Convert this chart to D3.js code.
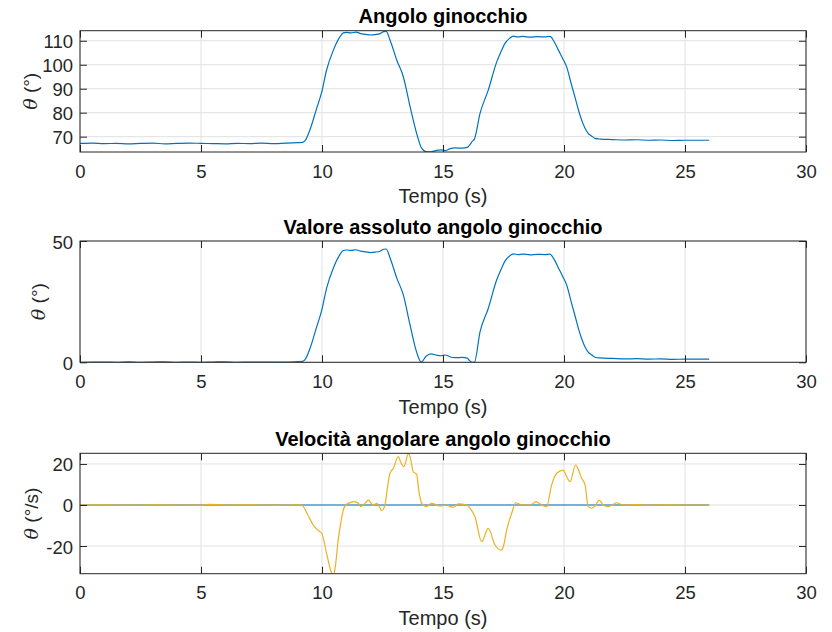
<!DOCTYPE html>
<html>
<head>
<meta charset="utf-8">
<script src="https://cdn.jsdelivr.net/npm/d3@7"></script>
<style>
  html, body { margin: 0; padding: 0; background: #fff; }
  svg { display: block; }
</style>
</head>
<body>
<svg id="chart" width="832" height="632"></svg>
<script>
// ---------------- DATA ----------------
const xTicks = [0, 5, 10, 15, 20, 25, 30];

// Panel 1: knee angle (deg)
const timeAngle = [0, 0.5, 1, 1.5, 2, 2.5, 3, 3.5, 4, 4.5, 5, 5.5, 6, 6.5, 7, 7.5, 8, 8.5, 9, 9.2,
  9.3, 9.5, 9.78, 9.99, 10.19, 10.47, 10.74, 10.88, 11.0, 11.2, 11.4, 11.6, 11.8, 12.0, 12.2, 12.4, 12.55, 12.65,
  12.81, 13.09, 13.36, 13.64, 13.91, 14.12, 14.32, 14.5, 14.7, 14.9, 15.1, 15.3, 15.5, 15.8, 16.0, 16.1, 16.2, 16.3,
  16.53, 16.87, 17.22, 17.4, 17.56, 17.75, 17.9, 18.1, 18.3, 18.6, 18.9, 19.2, 19.42, 19.6, 19.77, 19.95, 20.11,
  20.3, 20.45, 20.6, 20.73, 20.87, 21.0, 21.15, 21.28, 21.5, 22, 22.5, 23, 23.5, 24, 24.5, 25, 25.5, 26];
const angleValues = [67.2, 67.3, 67.1, 67.2, 67.0, 67.2, 67.3, 67.0, 67.2, 67.3, 67.2, 67.1, 67.0, 67.2, 67.1, 67.3, 67.1, 67.3, 67.5, 67.6,
  68.3, 72.8, 81.8, 88.7, 97.8, 106.1, 111.6, 113.3, 113.5, 113.3, 113.6, 113.0, 112.7, 112.4, 112.6, 113.0, 113.8, 113.9,
  110.3, 101.9, 95.0, 82.5, 71.4, 65.1, 63.7, 63.7, 64.2, 64.5, 64.2, 65.0, 65.3, 65.2, 65.5, 66.5, 67.9, 69.0,
  79.7, 89.4, 101.2, 105.5, 108.9, 111.0, 111.9, 111.6, 111.8, 111.5, 111.7, 111.6, 111.8, 109.5, 106.1, 102.5, 99.1,
  92.0, 86.6, 81.0, 76.9, 73.5, 71.4, 70.2, 69.3, 69.0, 68.8, 68.6, 68.7, 68.5, 68.6, 68.4, 68.5, 68.5, 68.5];
const yTicksAngle = [70, 80, 90, 100, 110];

// Panel 2: absolute knee angle (deg)
const timeAbs = [0, 0.5, 1, 1.5, 2, 2.5, 3, 3.5, 4, 4.5, 5, 5.5, 6, 6.5, 7, 7.5, 8, 8.5, 9, 9.2,
  9.3, 9.5, 9.78, 9.99, 10.19, 10.47, 10.74, 10.88, 11.0, 11.2, 11.4, 11.6, 11.8, 12.0, 12.2, 12.4, 12.55, 12.65,
  12.81, 13.09, 13.36, 13.64, 13.91, 14.1, 14.3, 14.5, 14.7, 14.9, 15.1, 15.3, 15.5, 15.8, 16.0, 16.1, 16.2, 16.3,
  16.53, 16.87, 17.22, 17.4, 17.56, 17.75, 17.9, 18.1, 18.3, 18.6, 18.9, 19.2, 19.42, 19.6, 19.77, 19.95, 20.11,
  20.3, 20.45, 20.6, 20.73, 20.87, 21.0, 21.15, 21.28, 21.5, 22, 22.5, 23, 23.5, 24, 24.5, 25, 25.5, 26];
const absValues = [0.0, 0.1, 0.1, 0.0, 0.2, 0.0, 0.1, 0.2, 0.0, 0.1, 0.0, 0.1, 0.2, 0.0, 0.1, 0.1, 0.1, 0.1, 0.3, 0.4,
  1.1, 5.6, 14.6, 21.5, 30.6, 38.9, 44.4, 46.1, 46.3, 46.1, 46.4, 45.8, 45.5, 45.2, 45.4, 45.8, 46.6, 46.7,
  43.1, 34.7, 27.8, 15.3, 4.2, 0.1, 2.5, 3.5, 3.0, 2.7, 3.0, 2.2, 1.9, 2.0, 1.7, 0.7, 0.0, 0.1,
  12.5, 22.2, 34.0, 38.3, 41.7, 43.8, 44.7, 44.4, 44.6, 44.3, 44.5, 44.4, 44.6, 42.3, 38.9, 35.3, 31.9,
  24.8, 19.4, 13.8, 9.7, 6.3, 4.2, 3.0, 2.1, 1.8, 1.6, 1.4, 1.5, 1.3, 1.4, 1.2, 1.3, 1.3, 1.3];
const yTicksAbs = [0, 50];

// Panel 3: angular velocity (deg/s)
const timeVel = [0, 1, 2, 3, 4, 5, 5.3, 6, 7, 8, 9, 9.16, 9.4, 9.64, 9.85, 9.99, 10.19, 10.4, 10.47, 10.54, 10.67, 10.8,
  10.88, 11.0, 11.09, 11.3, 11.5, 11.6, 11.75, 11.92, 12.05, 12.12, 12.26, 12.4, 12.47, 12.6, 12.7, 12.81, 12.95,
  13.15, 13.25, 13.39, 13.57, 13.65, 13.77, 13.91, 14.0, 14.12, 14.3, 14.53, 14.7, 14.9, 15.1, 15.43, 15.63, 15.98,
  16.12, 16.32, 16.6, 16.87, 17.15, 17.42, 17.5, 17.63, 17.84, 18.0, 18.15, 18.32, 18.6, 18.84, 19.08, 19.28, 19.49,
  19.7, 19.97, 20.1, 20.25, 20.48, 20.6, 20.73, 20.87, 21.0, 21.14, 21.28, 21.46, 21.62, 21.83, 22.0, 22.18, 22.4,
  23, 23.5, 24, 25, 26];
const velValues = [0, 0.1, -0.1, 0.1, 0, -0.1, 0.3, 0, 0.1, -0.1, 0.1, 0, -4.5, -9.8, -12.5, -13.8, -23.6, -33.3, -34.5, -31, -17, -7,
  -2.4, 0.2, 0.8, 1.6, 0.8, -0.8, 0.5, 2.4, 0.5, 0, 0.8, -1.5, -2.8, 0, 8, 15.5, 17.9,
  23.6, 21, 18.7, 25.2, 23, 16.2, 15, 7, 0.8, -0.8, 0.8, 0.2, -0.5, 0, -1.1, 0.5, 0,
  -1.6, -5.7, -17.9, -11.4, -19.5, -22, -20, -12.2, -4, 1.1, 0.5, 0, 0, 1.6, 0, -0.8, 9.8,
  15.5, 17, 14, 11.4, 19.5, 17, 13, 9.8, -0.8, -1.6, -0.5, 2.4, 0, -0.8, 0, 1.1, 0,
  0.2, -0.1, 0.1, 0, 0];
const timeZero = [0, 26];
const zeroValues = [0, 0];
const yTicksVel = [-20, 0, 20];

// ---------------- LAYOUT ----------------
const svg = d3.select('#chart');
const left = 80, right = 806;
const FONT = '"Liberation Sans", Arial, Helvetica, sans-serif';
const AXC = '#262626';
const BLUE = '#0072BD', YELLOW = '#EDB120';
const fmt = d => String(d);

const panels = [
  { top: 30.7, bottom: 152, domain: [63.6, 114.2], yTicks: yTicksAngle,
    title: 'Angolo ginocchio', ylab: '(°)', labX: 37,
    series: [{ t: timeAngle, v: angleValues, color: BLUE }] },
  { top: 241, bottom: 362.3, domain: [0, 50], yTicks: yTicksAbs,
    title: 'Valore assoluto angolo ginocchio', ylab: '(°)', labX: 45,
    series: [{ t: timeAbs, v: absValues, color: BLUE }] },
  { top: 453.3, bottom: 573.7, domain: [-33.5, 25.2], yTicks: yTicksVel,
    title: 'Velocità angolare angolo ginocchio', ylab: '(°/s)', labX: 38,
    series: [{ t: timeZero, v: zeroValues, color: BLUE }, { t: timeVel, v: velValues, color: YELLOW }] }
];

panels.forEach((p, i) => {
  const x = d3.scaleLinear().domain([0, 30]).range([left, right]);
  const y = d3.scaleLinear().domain(p.domain).range([p.bottom, p.top]);
  const g = svg.append('g');

  const clipId = 'clip' + i;
  svg.append('clipPath').attr('id', clipId)
    .append('rect').attr('x', left).attr('y', p.top)
    .attr('width', right - left).attr('height', p.bottom - p.top);

  // grid
  g.append('g').selectAll('line').data(xTicks).join('line')
    .attr('x1', d => x(d)).attr('x2', d => x(d))
    .attr('y1', p.top).attr('y2', p.bottom)
    .attr('stroke', '#e1e1e1').attr('stroke-width', 1);
  g.append('g').selectAll('line').data(p.yTicks).join('line')
    .attr('x1', left).attr('x2', right)
    .attr('y1', d => y(d)).attr('y2', d => y(d))
    .attr('stroke', '#e1e1e1').attr('stroke-width', 1);

  // series
  p.series.forEach(s => {
    const pts = s.t.map((t, k) => [t, s.v[k]]);
    const line = d3.line().x(d => x(d[0])).y(d => y(d[1])).curve(d3.curveMonotoneX);
    g.append('path').datum(pts)
      .attr('clip-path', 'url(#' + clipId + ')')
      .attr('d', line).attr('fill', 'none')
      .attr('stroke', s.color).attr('stroke-width', 1.2)
      .attr('stroke-linejoin', 'round');
  });

  // axes (ticks inward)
  const ax = g.append('g').attr('transform', `translate(0,${p.bottom})`)
    .call(d3.axisBottom(x).tickValues(xTicks).tickSize(-7).tickSizeOuter(0).tickFormat(fmt));
  ax.selectAll('text').attr('y', 25.5).attr('dy', null);
  const axT = g.append('g').attr('transform', `translate(0,${p.top})`)
    .call(d3.axisTop(x).tickValues(xTicks).tickSize(-7).tickSizeOuter(0).tickFormat(''));
  const ay = g.append('g').attr('transform', `translate(${left},0)`)
    .call(d3.axisLeft(y).tickValues(p.yTicks).tickSize(-7).tickSizeOuter(0).tickFormat(fmt));
  ay.selectAll('text').attr('x', -7).attr('dy', null).attr('y', 7);
  const ayR = g.append('g').attr('transform', `translate(${right},0)`)
    .call(d3.axisRight(y).tickValues(p.yTicks).tickSize(-7).tickSizeOuter(0).tickFormat(''));

  [ax, axT, ay, ayR].forEach(a => {
    a.select('.domain').remove();
    a.selectAll('line').attr('stroke', AXC);
    a.selectAll('text').attr('fill', AXC).style('font-family', FONT).style('font-size', '18.5px');
  });

  // box
  g.append('rect').attr('x', left).attr('y', p.top)
    .attr('width', right - left).attr('height', p.bottom - p.top)
    .attr('fill', 'none').attr('stroke', AXC).attr('stroke-width', 1);

  // title
  g.append('text').attr('x', (left + right) / 2).attr('y', p.top - 7.5)
    .attr('text-anchor', 'middle').attr('fill', '#000')
    .style('font-family', FONT).style('font-size', '20px').style('font-weight', 'bold')
    .text(p.title);

  // x label
  g.append('text').attr('x', (left + right) / 2).attr('y', p.bottom + 51.3)
    .attr('text-anchor', 'middle').attr('fill', AXC)
    .style('font-family', FONT).style('font-size', '20px')
    .text('Tempo (s)');

  // y label
  const yl = g.append('text')
    .attr('transform', `translate(${p.labX},${(p.top + p.bottom) / 2}) rotate(-90)`)
    .attr('text-anchor', 'middle').attr('fill', AXC)
    .style('font-family', FONT).style('font-size', '19px');
  yl.append('tspan').style('font-family', '"DejaVu Serif", "Liberation Serif", serif')
    .style('font-style', 'italic').text('θ');
  yl.append('tspan').text(' ' + p.ylab);
});
</script>
</body>
</html>
